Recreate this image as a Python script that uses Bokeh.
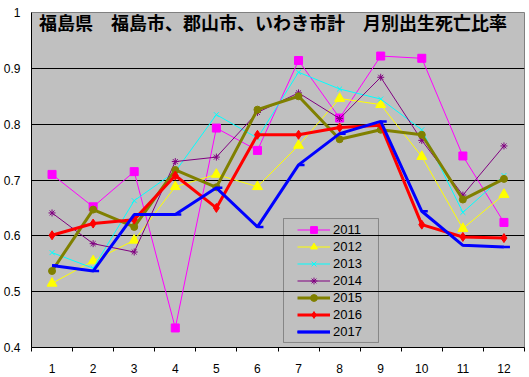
from bokeh.plotting import figure
from bokeh.models import FixedTicker, Range1d, Legend, LegendItem, Label, BoxAnnotation
from bokeh.embed import file_html
from bokeh.resources import INLINE

title_text = "福島県　福島市、郡山市、いわき市計　月別出生死亡比率"
months = [1, 2, 3, 4, 5, 6, 7, 8, 9, 10, 11, 12]
y_ticks = [0.4, 0.5, 0.6, 0.7, 0.8, 0.9, 1.0]
y_tick_labels = ["0.4", "0.5", "0.6", "0.7", "0.8", "0.9", "1"]

years = ["2011", "2012", "2013", "2014", "2015", "2016", "2017"]
y2011 = [0.710, 0.652, 0.715, 0.435, 0.793, 0.753, 0.914, 0.811, 0.922, 0.918, 0.743, 0.624]
y2012 = [0.515, 0.555, 0.592, 0.688, 0.710, 0.688, 0.762, 0.846, 0.835, 0.742, 0.613, 0.674]
y2013 = [0.570, 0.542, 0.663, 0.715, 0.817, 0.775, 0.893, 0.863, 0.845, 0.790, 0.642, 0.708]
y2014 = [0.641, 0.586, 0.571, 0.733, 0.741, 0.821, 0.856, 0.810, 0.884, 0.771, 0.673, 0.761]
y2015 = [0.537, 0.647, 0.616, 0.718, 0.687, 0.826, 0.850, 0.773, 0.790, 0.781, 0.665, 0.702]
y2016 = [0.601, 0.622, 0.629, 0.708, 0.650, 0.781, 0.781, 0.794, 0.798, 0.620, 0.598, 0.596]
y2017 = [0.547, 0.537, 0.638, 0.638, 0.686, 0.616, 0.727, 0.783, 0.805, 0.644, 0.583, 0.580]

series = [y2011, y2012, y2013, y2014, y2015, y2016, y2017]
colors = ["#FF00FF", "#FFFF00", "#00FFFF", "#800080", "#808000", "#FF0000", "#0000FF"]
markers = ["square", "triangle", "x", "asterisk", "circle", "diamond", None]
msizes = [8, 10, 7, 7, 7, 9, 0]
lwidths = [1, 1, 1, 1, 3, 3, 3]

p = figure(width=529, height=377, x_range=Range1d(0.5, 12.5), y_range=Range1d(0.4, 1.0),
           output_backend="svg", toolbar_location=None,
           min_border_left=31, min_border_right=5, min_border_top=12, min_border_bottom=30,
           background_fill_color="#C0C0C0", border_fill_color="white",
           outline_line_color="#808080", outline_line_width=1)

# axes
p.xaxis.ticker = FixedTicker(ticks=months, minor_ticks=[m + 0.5 for m in range(0, 13)])
p.xaxis.major_tick_line_color = None
p.xaxis.major_tick_in = 0
p.xaxis.major_tick_out = 0
p.xaxis.minor_tick_in = 0
p.xaxis.minor_tick_out = 4
p.xaxis.minor_tick_line_color = "black"
p.xaxis.major_label_standoff = 12

p.yaxis.ticker = FixedTicker(ticks=y_ticks)
p.yaxis.major_label_overrides = {t: l for t, l in zip(y_ticks, y_tick_labels)}
p.yaxis.major_tick_in = 0
p.yaxis.major_tick_out = 0
p.yaxis.minor_tick_line_color = None
p.yaxis.major_label_standoff = 11

for ax in (p.xaxis, p.yaxis):
    ax.axis_line_color = "black"
    ax.axis_line_width = 1
    ax.major_label_text_font = "Liberation Sans"
    ax.major_label_text_font_size = "12px"
    ax.major_label_text_color = "black"

p.xgrid.visible = False
p.ygrid.ticker = FixedTicker(ticks=y_ticks)
p.ygrid.grid_line_color = "black"
p.ygrid.grid_line_width = 1

items = []
for name, vals, col, mk, ms, lw in zip(years, series, colors, markers, msizes, lwidths):
    rs = [p.line(months, vals, line_color=col, line_width=lw)]
    if mk is not None:
        rs.append(p.scatter(months, vals, marker=mk, size=ms, fill_color=col,
                            line_color=col, line_width=1))
    else:
        rs.append(p.ray(x=months, y=vals, length=6, length_units="screen", angle=0,
                        line_color=col, line_width=2.5))
    items.append(LegendItem(label=name, renderers=rs))

legend = Legend(items=items, location=(266, 7), padding=2, spacing=0,
                glyph_width=33, glyph_height=17, label_height=17, label_standoff=3,
                label_text_font="Liberation Sans", label_text_font_size="13px",
                label_text_color="black", border_line_color=None,
                background_fill_alpha=0, margin=0)
p.add_layout(legend)

p.add_layout(BoxAnnotation(left=6.634, right=8.946, bottom=0.409, top=0.631,
                           fill_alpha=0, line_color="black", line_width=1))

p.add_layout(Label(x=6.38, y=0.983, text=title_text, text_font="Noto Sans CJK JP",
                   text_font_style="bold", text_font_size="18px", text_align="center",
                   text_baseline="middle", text_color="black"))

open("out.html", "w").write(file_html(p, INLINE))
